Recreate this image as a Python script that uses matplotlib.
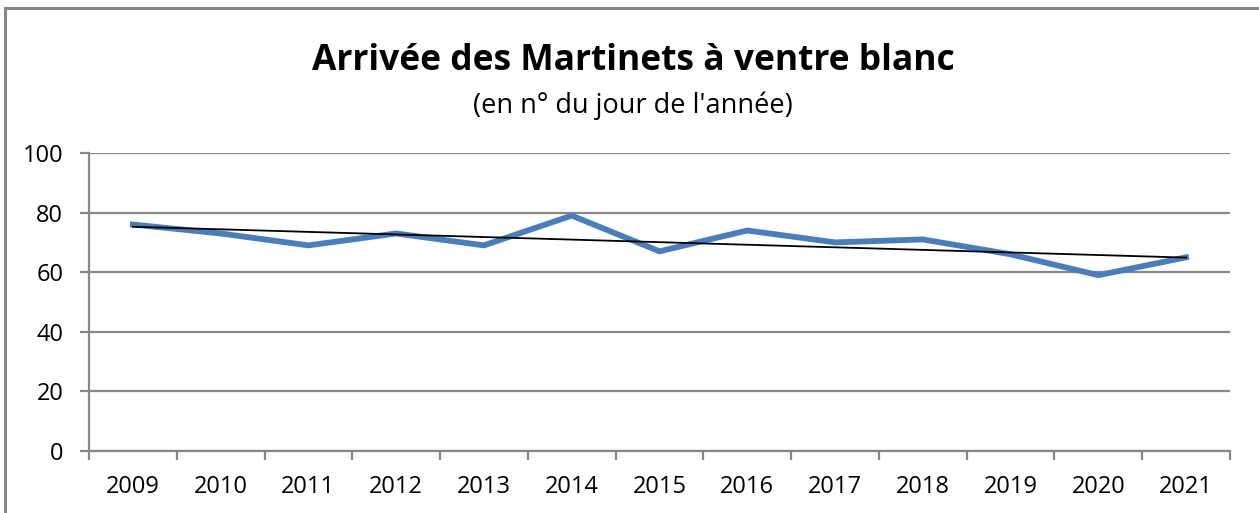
import numpy as np
import matplotlib
matplotlib.use("Agg")
import matplotlib.pyplot as plt
from matplotlib.lines import Line2D

plt.rcParams["font.family"] = ["Open Sans", "DejaVu Sans"]

years = ["2009", "2010", "2011", "2012", "2013", "2014", "2015",
         "2016", "2017", "2018", "2019", "2020", "2021"]
arrival_day = [76, 73, 69, 73, 69, 79, 67, 74, 70, 71, 66, 59, 65]
y_ticks = [0, 20, 40, 60, 80, 100]

title = "Arrivée des Martinets à ventre blanc"
subtitle = "(en n° du jour de l'année)"

grey = "#888888"
blue = "#4a7ebb"

W, H = 1259, 513
fig = plt.figure(figsize=(W / 100, H / 100), dpi=100)
ax = fig.add_axes([89 / W, 1 - 451 / H, (1230 - 89) / W, (451 - 153) / H])

x = np.arange(len(years))
ax.plot(x, arrival_day, color=blue, lw=4.2, solid_joinstyle="miter", zorder=3)

# linear trend, as in the spreadsheet
fit = np.polyfit(x, arrival_day, 1)
ax.plot(x, fit[0] * x + fit[1], color="black", lw=1.3, zorder=4)

ax.set_xlim(-0.5, len(years) - 0.5)
ax.set_ylim(0, 100)
ax.set_yticks(y_ticks)
ax.set_yticklabels([str(v) for v in y_ticks], fontsize=17)
ax.yaxis.grid(True, color=grey, lw=1.6)
ax.set_axisbelow(True)

# category boundaries get the tick marks, the centres get the labels
ax.set_xticks(np.arange(len(years) + 1) - 0.5)
ax.set_xticklabels([])
ax.set_xticks(x, minor=True)
ax.set_xticklabels(years, minor=True, fontsize=17)
ax.tick_params(axis="x", which="major", length=6.5, width=1.6, color=grey, direction="out")
ax.tick_params(axis="x", which="minor", length=0, pad=17)
ax.tick_params(axis="y", length=6.5, width=1.6, color=grey, pad=12)

for side in ["top", "right"]:
    ax.spines[side].set_visible(False)
for side in ["left", "bottom"]:
    ax.spines[side].set_color(grey)
    ax.spines[side].set_linewidth(1.6)

fig.text(633 / W, 1 - 70 / H, title, ha="center", va="baseline",
         fontsize=25.5, fontweight="bold")
fig.text(633 / W, 1 - 113 / H, subtitle, ha="center", va="baseline", fontsize=19.5)

# outer frame of the chart (only top and left visible)
fig.add_artist(Line2D([5 / W, 5 / W], [0, 1 - 8 / H], color=grey, lw=2.2,
                      transform=fig.transFigure))
fig.add_artist(Line2D([5 / W, 1], [1 - 8 / H, 1 - 8 / H], color=grey, lw=2.2,
                      transform=fig.transFigure))

fig.savefig("out.png", dpi=100)
